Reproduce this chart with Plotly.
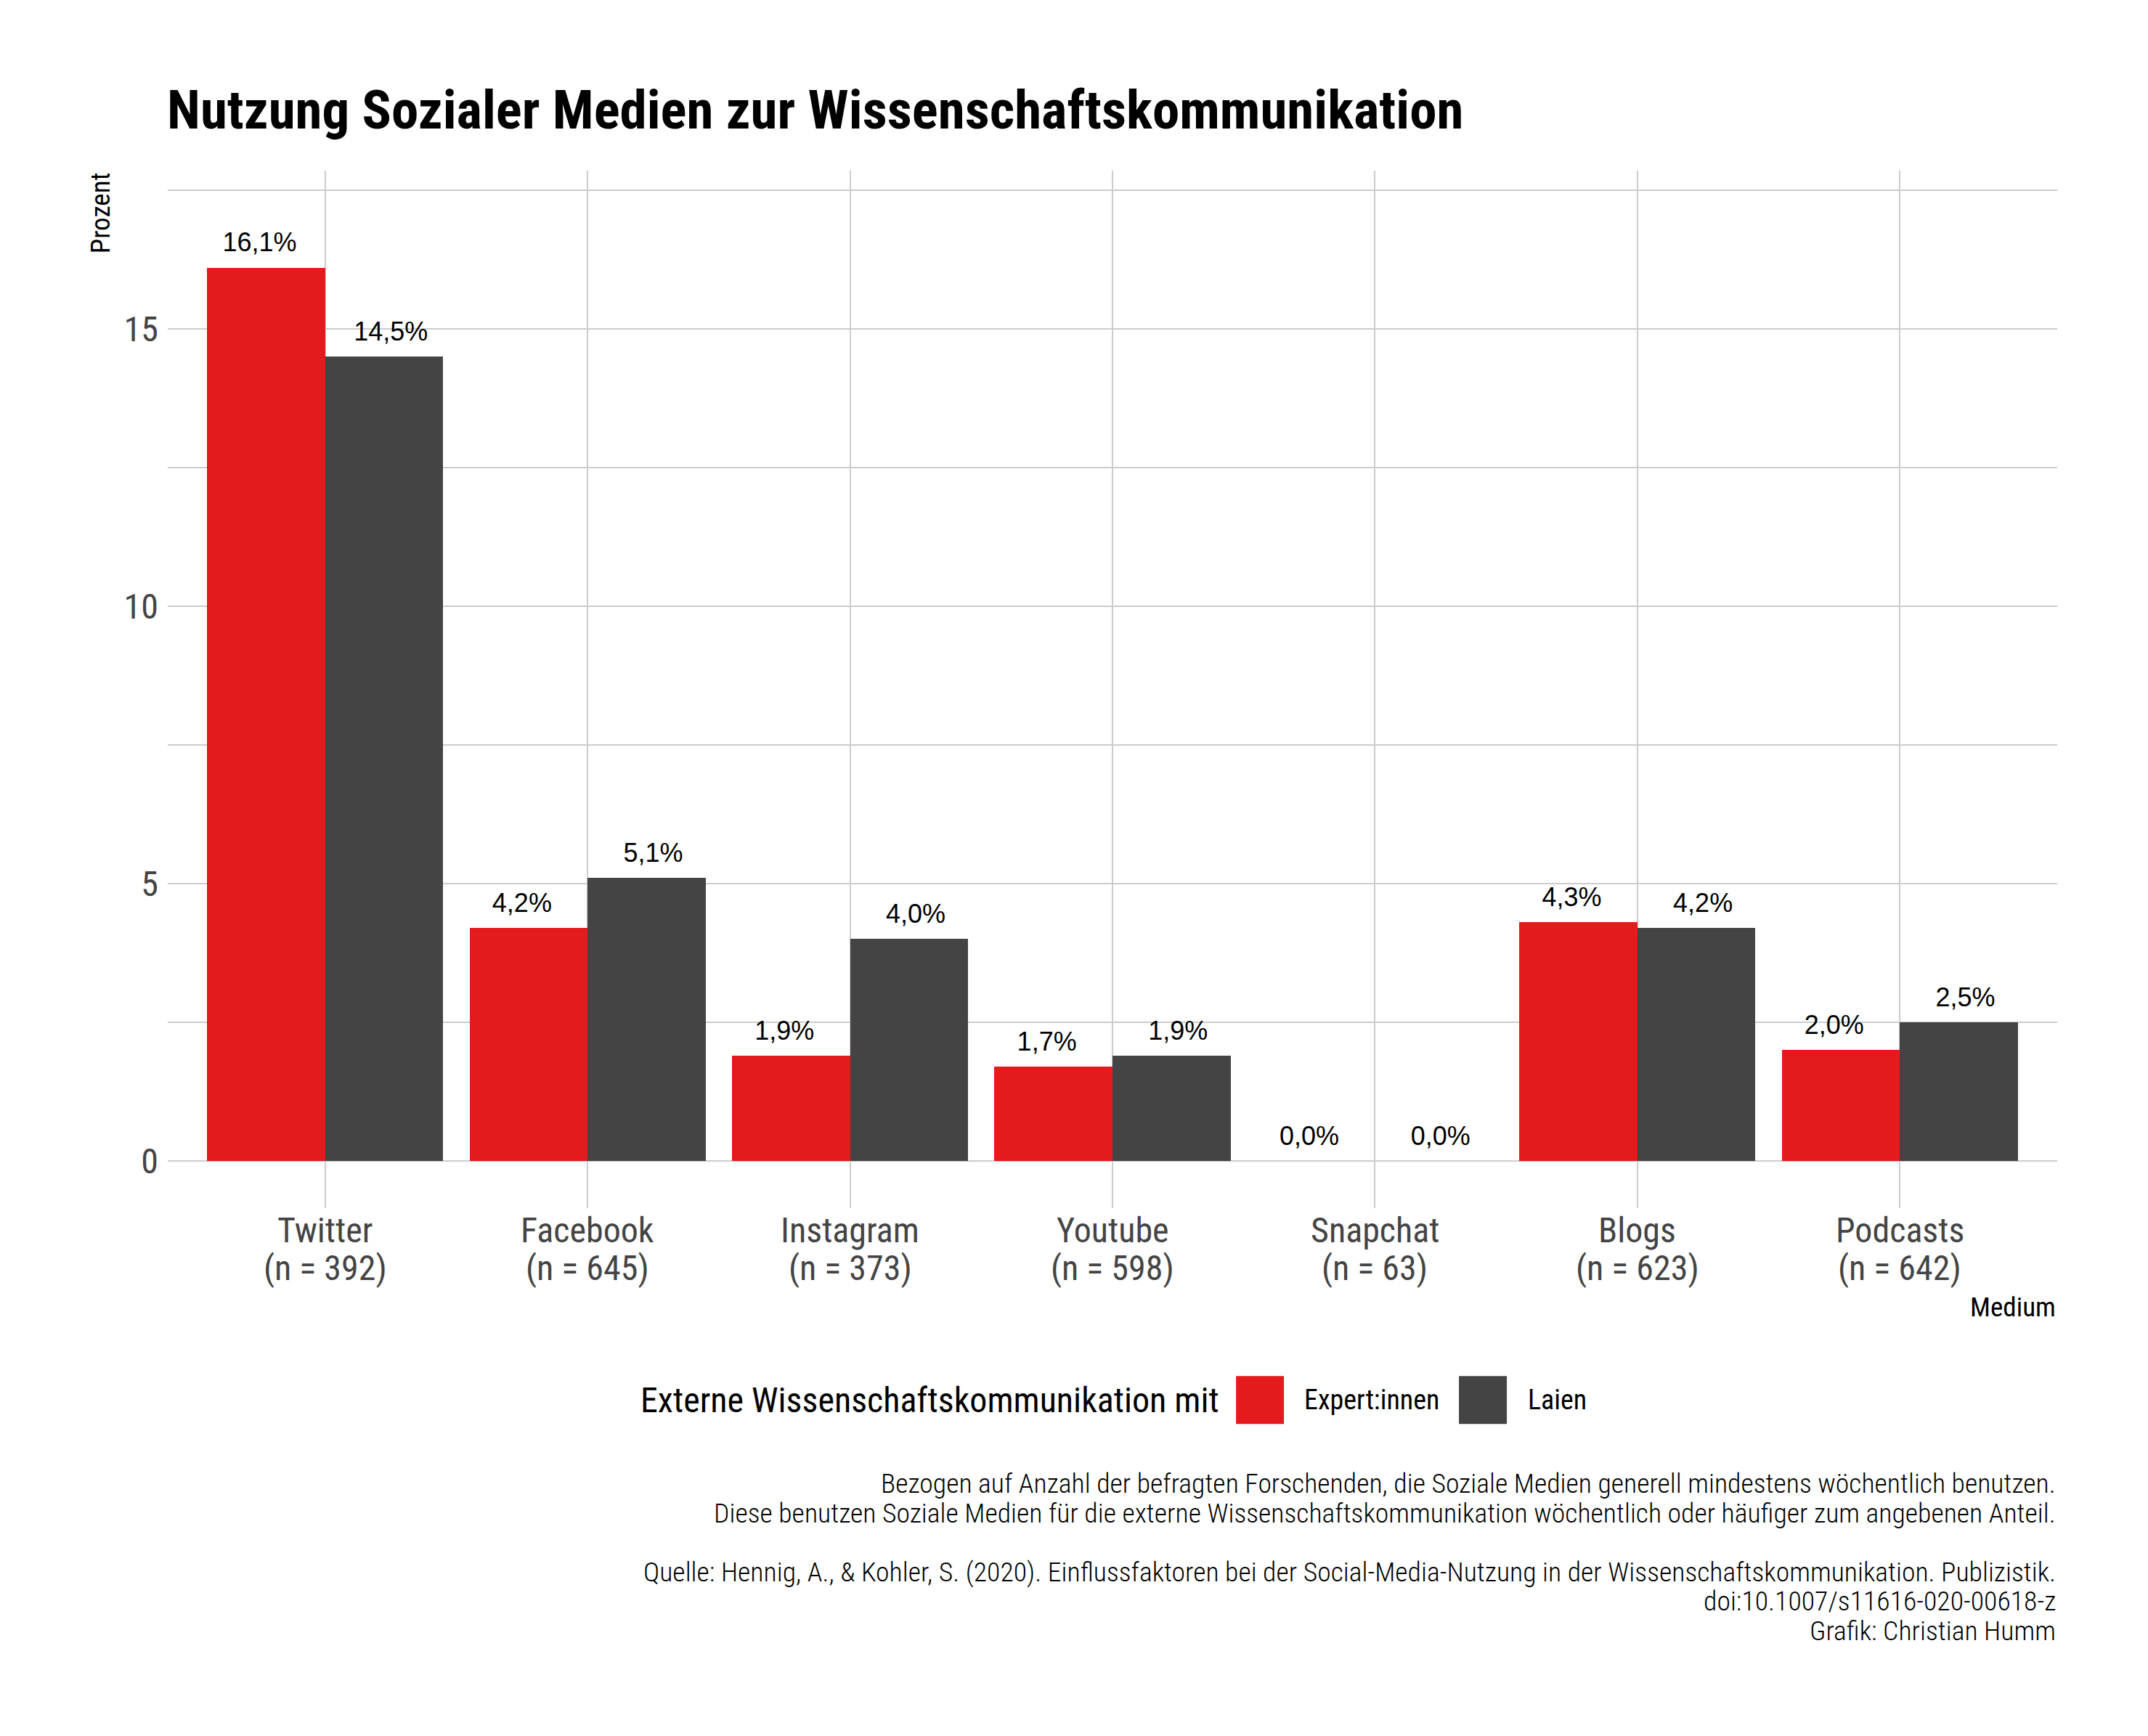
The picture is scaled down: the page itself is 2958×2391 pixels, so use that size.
import plotly.graph_objects as go

# ---------------- data ----------------
media = ["Twitter", "Facebook", "Instagram", "Youtube", "Snapchat", "Blogs", "Podcasts"]
n_counts = [392, 645, 373, 598, 63, 623, 642]
experten = [16.1, 4.2, 1.9, 1.7, 0.0, 4.3, 2.0]
laien = [14.5, 5.1, 4.0, 1.9, 0.0, 4.2, 2.5]
series_names = ["Expert:innen", "Laien"]
series_colors = ["#E41A1C", "#444444"]
y_ticks = [0, 5, 10, 15]
y_minor = [2.5, 7.5, 12.5, 17.5]

title = "Nutzung Sozialer Medien zur Wissenschaftskommunikation"
legend_title = "Externe Wissenschaftskommunikation mit"
caption_lines = [
    "Bezogen auf Anzahl der befragten Forschenden, die Soziale Medien generell mindestens wöchentlich benutzen.",
    "Diese benutzen Soziale Medien für die externe Wissenschaftskommunikation wöchentlich oder häufiger zum angebenen Anteil.",
    "",
    "Quelle: Hennig, A., & Kohler, S. (2020). Einflussfaktoren bei der Social-Media-Nutzung in der Wissenschaftskommunikation. Publizistik.",
    "doi:10.1007/s11616-020-00618-z",
    "Grafik: Christian Humm",
]

# ---------------- layout constants (page pixels) ----------------
FIG_W, FIG_H = 2958, 2391
OFF = 8  # default body margin of the written page
L, R, T, B = 230.7, 2833.0, 235.0, 1663.7
PW, PH = R - L, B - T

COND = "Roboto Condensed, Liberation Sans Narrow, DejaVu Sans Condensed, Roboto, sans-serif"
ARIAL = "Liberation Sans, Arial, sans-serif"
GRID = "#cccccc"
TICK_COL = "#444444"

def px_x(x):
    return (x - L) / PW

def px_y(y):
    return (B - y) / PH

xs = list(range(len(media)))
bar_w = 0.45
label_shift = 0.25
label_lift = 0.41

def fmt(v):
    return f"{v:.1f}".replace(".", ",") + "%"

fig = go.Figure()
for vals, name, col, off, sgn in [
    (experten, series_names[0], series_colors[0], -bar_w, -1),
    (laien, series_names[1], series_colors[1], 0.0, 1),
]:
    fig.add_trace(go.Bar(
        x=xs, y=vals, name=name, width=bar_w, offset=off,
        marker=dict(color=col, line=dict(width=0)),
        showlegend=False, hoverinfo="skip",
    ))
    fig.add_trace(go.Scatter(
        x=[x + sgn * label_shift for x in xs],
        y=[v + label_lift for v in vals],
        text=[fmt(v) for v in vals],
        mode="text", textposition="middle center",
        textfont=dict(family=ARIAL, size=36, color="#000000"),
        showlegend=False, hoverinfo="skip",
    ))

annotations = []
# x tick labels (two lines, tight spacing)
for i, (m, n) in enumerate(zip(media, n_counts)):
    for txt, yc in [(m, 1694), (f"(n = {n})", 1746)]:
        annotations.append(dict(
            text=txt, xref="x", yref="paper", x=i, y=px_y(yc),
            xanchor="center", yanchor="middle", showarrow=False,
            font=dict(family=COND, size=48, color=TICK_COL),
        ))
# axis titles (hrbrthemes style)
annotations.append(dict(
    text="Prozent", textangle=-90, xref="paper", yref="paper",
    x=px_x(138), y=1.0, xanchor="center", yanchor="top", showarrow=False,
    font=dict(family=COND, size=37, color="#000000"),
))
annotations.append(dict(
    text="Medium", xref="paper", yref="paper",
    x=px_x(2833), y=px_y(1800), xanchor="right", yanchor="middle", showarrow=False,
    font=dict(family=COND, size=37, color="#000000"),
))
# title
annotations.append(dict(
    text=f"<b>{title}</b>", xref="paper", yref="paper",
    x=px_x(228), y=px_y(151), xanchor="left", yanchor="middle", showarrow=False,
    font=dict(family=COND, size=75, color="#000000"),
))
# legend (manual, large keys)
legend_y = 1928
annotations.append(dict(
    text=legend_title, xref="paper", yref="paper",
    x=px_x(880), y=px_y(legend_y), xanchor="left", yanchor="middle", showarrow=False,
    font=dict(family=COND, size=48, color="#000000"),
))
shapes = []
key_x = [1702, 2009]
lab_x = [1794, 2102]
for i in range(2):
    shapes.append(dict(
        type="rect", xref="paper", yref="paper",
        x0=px_x(key_x[i]), x1=px_x(key_x[i] + 66), y0=px_y(legend_y - 33), y1=px_y(legend_y + 33),
        fillcolor=series_colors[i], line=dict(width=0),
    ))
    annotations.append(dict(
        text=series_names[i], xref="paper", yref="paper",
        x=px_x(lab_x[i]), y=px_y(legend_y), xanchor="left", yanchor="middle", showarrow=False,
        font=dict(family=COND, size=38, color="#000000"),
    ))
# caption
cap_y0 = 2043
cap_step = 40.5
for i, line in enumerate(caption_lines):
    if not line:
        continue
    annotations.append(dict(
        text=line, xref="paper", yref="paper",
        x=px_x(2833), y=px_y(cap_y0 + i * cap_step), xanchor="right", yanchor="middle",
        showarrow=False,
        font=dict(family=COND, size=37.7, color="#000000", weight=300),
    ))

fig.update_layout(
    width=FIG_W - OFF, height=FIG_H - OFF, autosize=False,
    margin=dict(l=L - OFF, r=FIG_W - R, t=T - OFF, b=FIG_H - B, pad=0),
    paper_bgcolor="white", plot_bgcolor="white",
    barmode="overlay", bargap=0,
    showlegend=False,
    annotations=annotations, shapes=shapes,
    font=dict(family=COND),
)
fig.update_xaxes(
    range=[-0.6, len(media) - 0.4], tickmode="array", tickvals=xs,
    showticklabels=False,
    showgrid=True, gridcolor=GRID, gridwidth=2, zeroline=False, showline=False,
    ticks="",
)
fig.update_yaxes(
    range=[-0.85, 17.85], tickmode="array", tickvals=y_ticks,
    showgrid=True, gridcolor=GRID, gridwidth=2, zeroline=False, showline=False,
    minor=dict(tickmode="array", tickvals=y_minor, showgrid=True, gridcolor=GRID, gridwidth=2),
    ticks="", ticklabelstandoff=12,
    tickfont=dict(family=COND, size=48, color=TICK_COL),
)

fig.write_html("out.html")
